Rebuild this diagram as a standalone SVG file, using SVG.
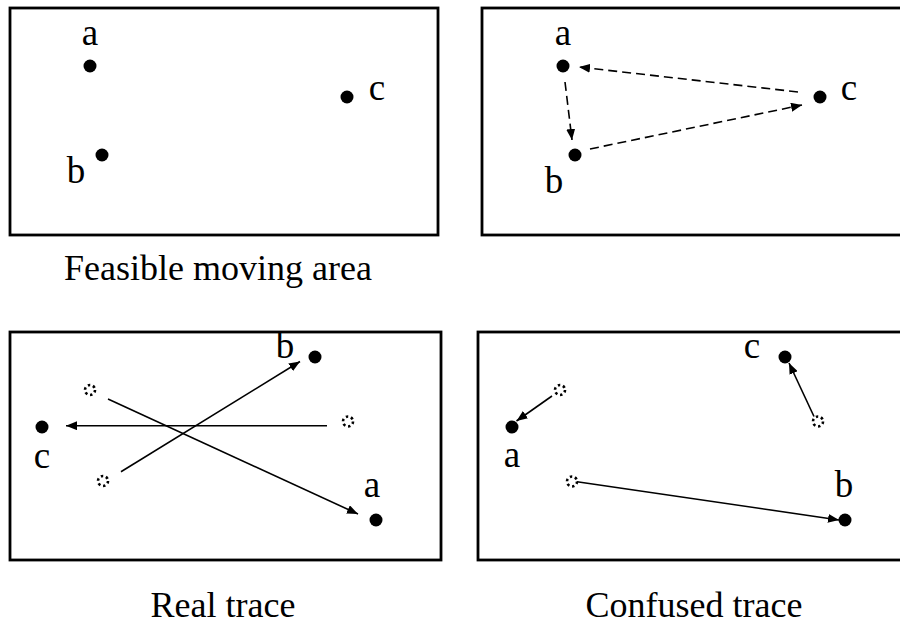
<svg xmlns="http://www.w3.org/2000/svg" width="900" height="626" viewBox="0 0 900 626">
<style>
.frame{fill:none;stroke:#000;stroke-width:2.8}
.dot{fill:#000}
.ghost{fill:none;stroke:#000;stroke-width:2.6;stroke-dasharray:2.4 2.8}
.lbl{font-family:"Liberation Serif","Times New Roman",serif;font-size:37px;fill:#000;text-anchor:middle}
.cap{font-family:"Liberation Serif","Times New Roman",serif;font-size:36px;fill:#000;text-anchor:middle}
.solid{fill:none;stroke:#000;stroke-width:1.6;marker-end:url(#ah)}
.dash{fill:none;stroke:#000;stroke-width:1.6;stroke-dasharray:9 5;marker-end:url(#ah)}
</style>
<defs>
<marker id="ah" markerUnits="userSpaceOnUse" markerWidth="12" markerHeight="9" refX="11" refY="4.5" orient="auto">
<path d="M0,0 L11,4.5 L0,9 z" fill="#000"/>
</marker>
</defs>
<rect width="900" height="626" fill="#fff"/>

<g id="panel-feasible">
<rect class="frame" x="10" y="8" width="428" height="227"/>
<g id="p1-a"><circle class="dot" cx="90" cy="66" r="6.5"/><text class="lbl" x="90" y="45">a</text></g>
<g id="p1-b"><circle class="dot" cx="102" cy="155" r="6.5"/><text class="lbl" x="76" y="183">b</text></g>
<g id="p1-c"><circle class="dot" cx="347" cy="97" r="6.5"/><text class="lbl" x="377" y="100">c</text></g>
<text class="cap" x="218" y="280">Feasible moving area</text>
</g>

<g id="panel-cycle">
<rect class="frame" x="482" y="8" width="440" height="227"/>
<g id="p2-a"><circle class="dot" cx="563" cy="66" r="6.5"/><text class="lbl" x="563" y="45">a</text></g>
<g id="p2-b"><circle class="dot" cx="575" cy="155" r="6.5"/><text class="lbl" x="554" y="193">b</text></g>
<g id="p2-c"><circle class="dot" cx="820" cy="97" r="6.5"/><text class="lbl" x="849" y="100">c</text></g>
</g>

<g id="panel-real">
<rect class="frame" x="10" y="332" width="431" height="228"/>
<g id="p3-b"><circle class="dot" cx="315" cy="357" r="6.5"/><text class="lbl" x="285" y="358">b</text></g>
<g id="p3-c"><circle class="dot" cx="42" cy="427" r="6.5"/><text class="lbl" x="42" y="468">c</text></g>
<g id="p3-a"><circle class="dot" cx="376" cy="520" r="6.5"/><text class="lbl" x="372" y="497">a</text></g>
<g id="p3-ga"><circle class="ghost" cx="90" cy="390" r="5"/></g>
<g id="p3-gc"><circle class="ghost" cx="348" cy="421.5" r="5"/></g>
<g id="p3-gb"><circle class="ghost" cx="103" cy="481" r="5"/></g>
<text class="cap" x="223" y="617">Real trace</text>
</g>

<g id="panel-confused">
<rect class="frame" x="478" y="332" width="440" height="228"/>
<g id="p4-a"><circle class="dot" cx="512" cy="427" r="6.5"/><text class="lbl" x="512" y="467">a</text></g>
<g id="p4-c"><circle class="dot" cx="785" cy="357" r="6.5"/><text class="lbl" x="752" y="358">c</text></g>
<g id="p4-b"><circle class="dot" cx="845" cy="520" r="6.5"/><text class="lbl" x="844" y="497">b</text></g>
<g id="p4-ga"><circle class="ghost" cx="560" cy="390" r="5"/></g>
<g id="p4-gc"><circle class="ghost" cx="818" cy="421.5" r="5"/></g>
<g id="p4-gb"><circle class="ghost" cx="572" cy="481.5" r="5"/></g>
<text class="cap" x="694" y="617">Confused trace</text>
</g>

<g id="connectors">
<line class="dash" x1="798" y1="92" x2="579" y2="67"/>
<line class="dash" x1="565" y1="82" x2="572" y2="140"/>
<line class="dash" x1="590" y1="149" x2="802" y2="105"/>
<line class="solid" x1="108" y1="399" x2="358" y2="514"/>
<line class="solid" x1="327" y1="425.7" x2="66" y2="425.7"/>
<line class="solid" x1="121" y1="471.7" x2="300" y2="361.5"/>
<line class="solid" x1="552" y1="396" x2="516.5" y2="421"/>
<line class="solid" x1="814" y1="416.5" x2="789" y2="363"/>
<line class="solid" x1="577" y1="481.7" x2="839" y2="520"/>
</g>
</svg>
